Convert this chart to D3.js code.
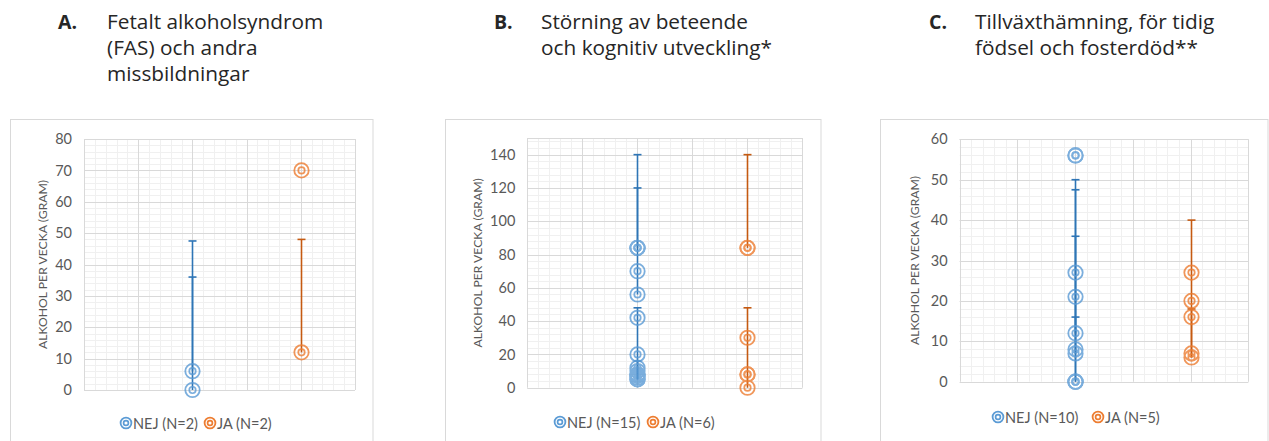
<!DOCTYPE html>
<html>
<head>
<meta charset="utf-8">
<script src="https://cdn.jsdelivr.net/npm/d3@7"></script>
<style>
  body { margin: 0; background: #fff; }
  svg { display: block; font-family: Lato, "Open Sans", sans-serif; }
</style>
</head>
<body>
<div id="chart"></div>
<script>
// categories (x positions 1 and 2 on a 0..2.5 axis)
var groups = ['NEJ', 'JA'];
var groupX = [1, 2];

// titles
var letters = ['A.', 'B.', 'C.'];
var titles = [
    ['Fetalt alkoholsyndrom', '(FAS) och andra', 'missbildningar'],
    ['Störning av beteende', 'och kognitiv utveckling*'],
    ['Tillväxthämning, för tidig', 'födsel och fosterdöd**']
];
var yTitle = 'ALKOHOL PER VECKA (GRAM)';

// y axes
var yMax   = [80, 150, 60];
var yMajor = [10, 20, 10];
var yTicksA = [0, 10, 20, 30, 40, 50, 60, 70, 80];
var yTicksB = [0, 20, 40, 60, 80, 100, 120, 140];
var yTicksC = [0, 10, 20, 30, 40, 50, 60];

// points (gram per week)
var nejA = [0, 6];
var jaA  = [12, 70];
var nejB = [84, 84, 84, 70, 56, 42, 20, 12, 10, 8, 8, 7, 6, 5, 5];
var jaB  = [84, 84, 30, 8, 8, 0];
var nejC = [56, 56, 27, 21, 12, 8, 7, 0, 0, 0];
var jaC  = [27, 20, 16, 7, 6];

// error bars [from, to], cap drawn at 'to'
var nejErrA = [[0, 47.5], [6, 36]];
var jaErrA  = [[12, 48]];
var nejErrB = [[84, 140], [56, 120], [5, 48], [5, 16]];
var jaErrB  = [[84, 140], [0, 48]];
var nejErrC = [[0, 50], [7, 47.5], [12, 36], [0, 16]];
var jaErrC  = [[6, 40], [6, 18]];

// legend
var legendA = ['NEJ (N=2)', 'JA (N=2)'];
var legendB = ['NEJ (N=15)', 'JA (N=6)'];
var legendC = ['NEJ (N=10)', 'JA (N=5)'];

/*-------------------------------------------------------*/
var markColor = ['#5b9bd5', '#ed7d31'];
var barColor  = ['#2e75b6', '#c55a11'];

var layout = [
    { frame: [10.5, 119.5, 373, 460], plot: [84, 139, 355, 390],   titleX: 58,  textX: 107, yTitleX: 42.5, legend: [126, 210], legendY: 423 },
    { frame: [445.5, 119.5, 821, 460], plot: [527.3, 138, 802.3, 387.7], titleX: 494, textX: 541, yTitleX: 477.5, legend: [560, 653], legendY: 422 },
    { frame: [880.5, 119.5, 1268, 460], plot: [959.7, 139.3, 1248.3, 381.7], titleX: 929, textX: 975, yTitleX: 914, legend: [998, 1098], legendY: 417 }
];

var panels = [
    { ticks: yTicksA, pts: [nejA, jaA], err: [nejErrA, jaErrA], legend: legendA },
    { ticks: yTicksB, pts: [nejB, jaB], err: [nejErrB, jaErrB], legend: legendB },
    { ticks: yTicksC, pts: [nejC, jaC], err: [nejErrC, jaErrC], legend: legendC }
];

var svg = d3.select('#chart').append('svg')
            .attr('width', 1269)
            .attr('height', 441);

function marker(g, cx, cy, r, color){
    g.append('circle')
     .attr('cx', cx).attr('cy', cy).attr('r', r)
     .attr('fill', 'none').attr('stroke', color).attr('stroke-width', 1.8);
    g.append('circle')
     .attr('cx', cx).attr('cy', cy).attr('r', r * 0.45)
     .attr('fill', 'none').attr('stroke', color).attr('stroke-width', 1.7);
}

panels.forEach(function(p, i){
    var L = layout[i];

    // title
    svg.append('text')
       .attr('x', L.titleX).attr('y', 29)
       .attr('font-family', '"Open Sans", sans-serif')
       .attr('font-size', 19.5).attr('font-weight', 'bold').attr('fill', '#262626')
       .text(letters[i]);
    titles[i].forEach(function(line, j){
        svg.append('text')
           .attr('x', L.textX).attr('y', 29 + j * 26)
           .attr('font-family', '"Open Sans", sans-serif')
           .attr('font-size', 20.8).attr('fill', '#262626')
           .text(line);
    });

    // frame
    svg.append('rect')
       .attr('x', L.frame[0]).attr('y', L.frame[1])
       .attr('width', L.frame[2] - L.frame[0]).attr('height', L.frame[3] - L.frame[1])
       .attr('fill', '#fff').attr('stroke', '#d9d9d9');

    var x = d3.scaleLinear().domain([0, 2.5]).range([L.plot[0], L.plot[2]]);
    var y = d3.scaleLinear().domain([0, yMax[i]]).range([L.plot[3], L.plot[1]]);

    var grid = svg.append('g');
    // minor grid
    var minorY = d3.range(0, yMax[i] + 1e-9, yMajor[i] / 5);
    var minorX = d3.range(0, 2.5 + 1e-9, 0.1);
    grid.selectAll('.my').data(minorY).enter().append('line')
        .attr('x1', x(0)).attr('x2', x(2.5))
        .attr('y1', function(d){ return Math.round(y(d)) + 0.5; })
        .attr('y2', function(d){ return Math.round(y(d)) + 0.5; })
        .attr('stroke', '#f0f0f0');
    grid.selectAll('.mx').data(minorX).enter().append('line')
        .attr('y1', y(0)).attr('y2', y(yMax[i]))
        .attr('x1', function(d){ return Math.round(x(d)) + 0.5; })
        .attr('x2', function(d){ return Math.round(x(d)) + 0.5; })
        .attr('stroke', '#f0f0f0');
    // major grid
    var majorY = d3.range(0, yMax[i] + 1e-9, yMajor[i]).concat([yMax[i]]);
    grid.selectAll('.gy').data(majorY).enter().append('line')
        .attr('x1', x(0)).attr('x2', x(2.5))
        .attr('y1', function(d){ return Math.round(y(d)) + 0.5; })
        .attr('y2', function(d){ return Math.round(y(d)) + 0.5; })
        .attr('stroke', '#d9d9d9');
    grid.selectAll('.gx').data(d3.range(0, 2.5 + 1e-9, 0.5)).enter().append('line')
        .attr('y1', y(0)).attr('y2', y(yMax[i]))
        .attr('x1', function(d){ return Math.round(x(d)) + 0.5; })
        .attr('x2', function(d){ return Math.round(x(d)) + 0.5; })
        .attr('stroke', '#d9d9d9');

    // y axis labels
    var axis = svg.append('g')
                  .attr('transform', 'translate(' + (L.plot[0] - 6) + ',0)')
                  .call(d3.axisLeft(y).tickValues(p.ticks).tickSize(0).tickPadding(6));
    axis.select('.domain').remove();
    axis.selectAll('text')
        .attr('font-family', 'Lato, sans-serif')
        .attr('font-size', 14.5).attr('fill', '#595959');

    // y axis title
    svg.append('text')
       .attr('transform', 'translate(' + L.yTitleX + ',' + ((L.plot[1] + L.plot[3]) / 2) + ') rotate(-90)')
       .attr('text-anchor', 'middle').attr('dominant-baseline', 'central')
       .attr('font-size', 12.2).attr('fill', '#595959')
       .text(yTitle);

    // error bars
    p.err.forEach(function(errs, k){
        var cx = Math.round(x(groupX[k])) + 0.5;
        var g = svg.append('g').attr('stroke', barColor[k]).attr('stroke-width', 1.6);
        errs.forEach(function(e){
            g.append('line').attr('x1', cx).attr('x2', cx).attr('y1', y(e[0])).attr('y2', y(e[1]));
            g.append('line').attr('x1', cx - 4).attr('x2', cx + 4).attr('y1', y(e[1])).attr('y2', y(e[1]));
        });
    });

    // points
    p.pts.forEach(function(vals, k){
        var g = svg.append('g').attr('opacity', 0.8);
        vals.forEach(function(v){
            marker(g, Math.round(x(groupX[k])) + 0.5, y(v), 7.2, markColor[k]);
        });
    });

    // legend
    p.legend.forEach(function(lbl, k){
        var g = svg.append('g');
        marker(g, L.legend[k], L.legendY, 5.4, markColor[k]);
        g.append('text')
         .attr('x', L.legend[k] + 7).attr('y', L.legendY)
         .attr('dominant-baseline', 'central')
         .attr('font-size', 14.5).attr('fill', '#595959')
         .text(lbl);
    });
});
</script>
</body>
</html>
